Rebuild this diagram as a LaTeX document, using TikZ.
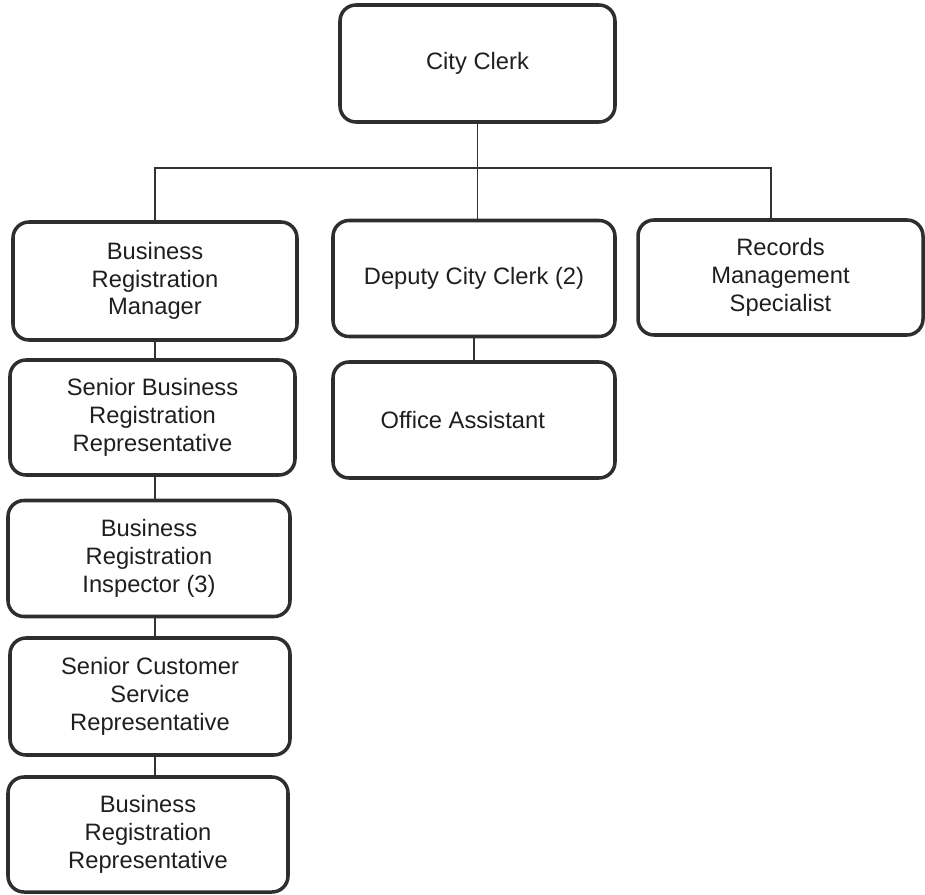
\documentclass[tikz,border=0pt]{standalone}
\usepackage{fontspec}
\setmainfont{Liberation Sans}
\usepackage{tikz}
\usetikzlibrary{positioning}
\tikzset{
    post/.style={rectangle, draw=black!82, line width=2pt, rounded corners=0.32cm, fill=white, align=center, minimum width=5.64cm, minimum height=2.32cm, inner sep=2pt, text=black!88, font=\fontsize{13.5}{15.8}\selectfont},
    link/.style={draw=black!80, line width=0.7pt}
}

\begin{document}
\begin{tikzpicture}
    % Frame
    \useasboundingbox (0,0) rectangle (18.5,-17.9);

    % Top
    \node[post, minimum width=5.5cm, minimum height=2.34cm] (clerk) at (9.55,-1.27) {City Clerk};

    % Second row
    \node[post, minimum width=5.68cm, minimum height=2.36cm] (brmanager) at (3.1,-5.62) {Business\\Registration\\Manager};
    \node[post] (deputy) at (9.48,-5.57) {Deputy City Clerk (2)};
    \node[post, minimum width=5.7cm, minimum height=2.3cm] (records) at (15.61,-5.55) {Records\\Management\\Specialist};

    % Under the deputy
    \node[post, minimum height=2.32cm] (office) at (9.48,-8.4) {Office Assistant\hspace*{0.45cm}};

    % Left column
    \node[post, minimum width=5.7cm, minimum height=2.3cm] (seniorrep) at (3.05,-8.35) {Senior Business\\Registration\\Representative};
    \node[post] (inspector) at (2.98,-11.17) {Business\\Registration\\Inspector (3)};
    \node[post, minimum width=5.6cm, minimum height=2.34cm] (customer) at (3.0,-13.93) {Senior Customer\\Service\\Representative};
    \node[post, minimum width=5.6cm, minimum height=2.3cm] (brrep) at (2.96,-16.69) {Business\\Registration\\Representative};

    % Connectors
    \coordinate (bus) at (0,-3.36);
    \draw[link] (clerk.south) -- (clerk.south |- bus);
    \draw[link] (brmanager.north) |- (bus -| clerk.south) -| ([xshift=-0.19cm]records.north);
    \draw[link] (clerk.south |- bus) -- (clerk.south |- deputy.north);
    \draw[link] (deputy.south) -- (deputy.south |- office.north);
    \draw[link] (brmanager.south) -- (brmanager.south |- seniorrep.north);
    \draw[link] (seniorrep.south -| brmanager.south) -- (brmanager.south |- inspector.north);
    \draw[link] (inspector.south -| brmanager.south) -- (brmanager.south |- customer.north);
    \draw[link] (customer.south -| brmanager.south) -- (brmanager.south |- brrep.north);

\end{tikzpicture}
\end{document}
